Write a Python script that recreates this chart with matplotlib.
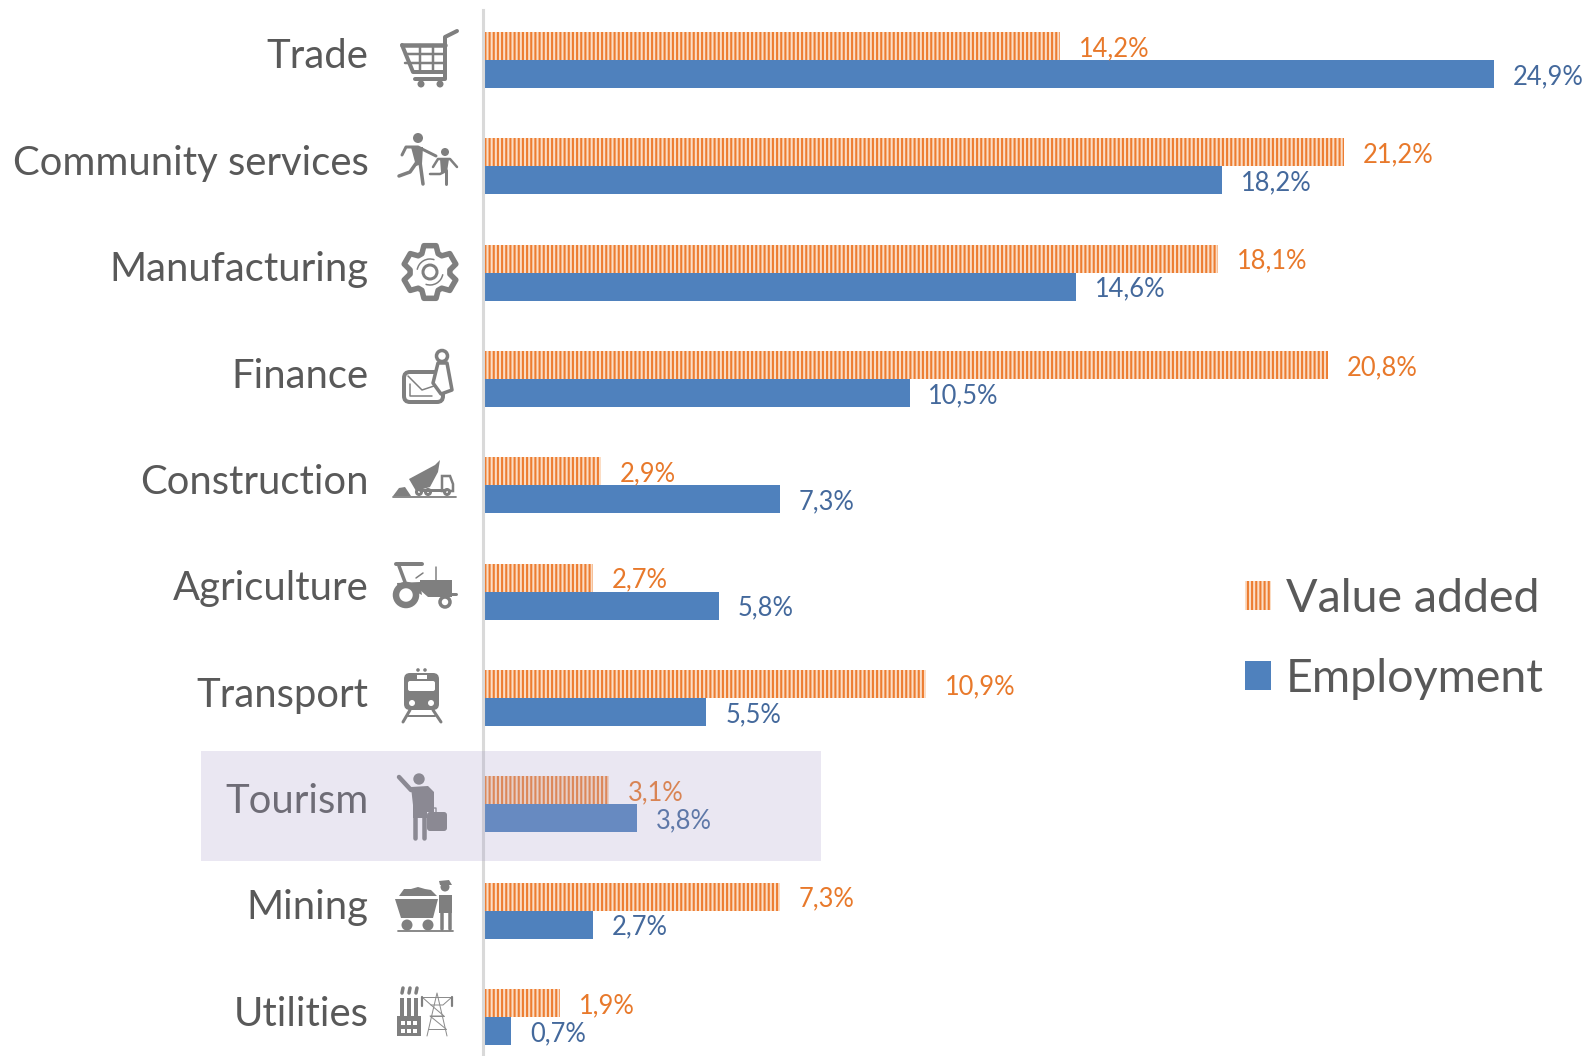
import numpy as np
import matplotlib
matplotlib.use("Agg")
import matplotlib.pyplot as plt
from matplotlib.patches import Polygon, Circle, Rectangle, FancyBboxPatch, Arc
from matplotlib.lines import Line2D
from matplotlib.transforms import ScaledTranslation

categories = ["Trade", "Community services", "Manufacturing", "Finance", "Construction",
              "Agriculture", "Transport", "Tourism", "Mining", "Utilities"]
value_added = [14.2, 21.2, 18.1, 20.8, 2.9, 2.7, 10.9, 3.1, 7.3, 1.9]
employment = [24.9, 18.2, 14.6, 10.5, 7.3, 5.8, 5.5, 3.8, 2.7, 0.7]
series_names = ["Value added", "Employment"]

W, H = 1590, 1056
plt.rcParams["font.family"] = ["Lato", "DejaVu Sans"]
plt.rcParams["hatch.linewidth"] = 1.5
ORANGE, PEACH, BLUE = "#ED7D31", "#FBDDC5", "#4F81BD"
TXT, GRAY = "#595959", "#7F7F7F"

fig = plt.figure(figsize=(W / 100, H / 100), dpi=100, facecolor="white")
L, T = 483, 10
ax = fig.add_axes([L / W, 0, 1 - L / W, 1 - T / H])
PX_PER_UNIT, ROW, FIRST = 40.62, 106.35, 60
ax.set_xlim(0, (W - L) / PX_PER_UNIT)
ax.set_ylim((H - FIRST) / ROW, -(FIRST - T) / ROW)
y = np.arange(len(categories))
h = 28 / ROW
b1 = ax.barh(y - h / 2, value_added, h, color=PEACH, edgecolor=ORANGE, hatch="||||", linewidth=0, label=series_names[0])
b2 = ax.barh(y + h / 2, employment, h, color=BLUE, linewidth=0, label=series_names[1])
fmt = lambda vals: [f"{v:.1f}%".replace(".", ",") for v in vals]
anns = ax.bar_label(b1, labels=fmt(value_added), padding=13.5, fontsize=18.4, color="#E8792B")
anns += ax.bar_label(b2, labels=fmt(employment), padding=13.5, fontsize=18.4, color="#44699C")
for a_ in anns:
    a_.xyann = (a_.xyann[0], a_.xyann[1] - 1.8)
for s in ("top", "right", "bottom"):
    ax.spines[s].set_visible(False)
ax.spines["left"].set_color("#D9D9D9")
ax.spines["left"].set_linewidth(2.2)
ax.set_xticks([])
ax.set_yticks(y, categories)
ax.tick_params(axis="y", length=0, pad=82.5, labelsize=28.8, labelcolor=TXT)
for t in ax.get_yticklabels():
    t.set_transform(t.get_transform() + ScaledTranslation(0, 6.5 / 100, fig.dpi_scale_trans))
ax.legend(handles=[b1, b2], loc="upper left", frameon=False, fontsize=33.6, labelcolor=TXT,
          handlelength=0.55, handleheight=0.58, handletextpad=0.32, labelspacing=0.83,
          borderpad=0, borderaxespad=0, bbox_to_anchor=(1245 / W, 1 - 577.5 / H),
          bbox_transform=fig.transFigure)

# Overlay in reference pixel coordinates for the pictograms and the highlight band
ov = fig.add_axes([0, 0, 1, 1], zorder=5)
ov.set_xlim(0, W)
ov.set_ylim(H, 0)
ov.axis("off")
px = 0.72

def P(pts, c=GRAY, **kw):
    ov.add_patch(Polygon(pts, closed=True, fc=c, ec="none", **kw))

def S(pts, w=3, c=GRAY):
    xs, ys = zip(*pts)
    ov.add_line(Line2D(xs, ys, lw=w * px, color=c, solid_capstyle="round", solid_joinstyle="round"))

def C(x, yy, r, c=GRAY):
    ov.add_patch(Circle((x, yy), r, fc=c, ec="none"))

def Ring(x, yy, r, w, c=GRAY, fc="none"):
    ov.add_patch(Circle((x, yy), r, fc=fc, ec=c, lw=w * px))

def RR(x0, y0, x1, y1, r, fc=GRAY, ec="none", w=0):
    ov.add_patch(FancyBboxPatch((x0 + r, y0 + r), x1 - x0 - 2 * r, y1 - y0 - 2 * r,
                                boxstyle=f"round,pad={r}", fc=fc, ec=ec, lw=w * px))

# Cart
S([(457, 31), (445, 37), (445, 79), (415, 79)], 4)
S([(402, 45), (445, 45)], 4.5)
S([(402, 45), (413, 72), (445, 72)], 4)
for yy in (54, 63):
    S([(405, yy), (445, yy)], 2.5)
for xx in (420, 433):
    S([(xx, 45), (xx, 72)], 2.5)
C(421, 84, 3.5); C(440, 84, 3.5)
# Adult and child
C(418, 138, 5)
S([(402, 155), (406, 147), (418, 147), (436, 156)], 3)
P([(411, 147), (423, 147), (422, 164), (416, 166)])
S([(417, 162), (410, 172), (399, 176)], 3.5)
S([(420, 162), (423, 184)], 3.5)
C(445, 152, 4)
S([(433, 167), (438, 159), (450, 159), (457, 167)], 2.5)
P([(440, 159), (449, 159), (447, 172), (441, 172)])
S([(446, 170), (446, 184)], 3)
S([(444, 172), (440, 174), (430, 174)], 2.5)
# Gear
gx, gy = 430, 272
a = np.deg2rad(np.arange(0, 360, 60) + 90)
gear = []
for t in a:
    for d, r in ((-24, 20), (-13, 27), (13, 27), (24, 20)):
        q = t + np.deg2rad(d)
        gear.append((gx + r * np.cos(q), gy - r * np.sin(q)))
ov.add_patch(Polygon(gear, closed=True, fc="white", ec=GRAY, lw=5.5 * px, joinstyle="round"))
Ring(gx, gy, 7, 3)
ov.add_patch(Arc((gx, gy), 26, 26, theta1=190, theta2=290, ec=GRAY, lw=1.5 * px))
ov.add_patch(Arc((gx, gy), 26, 26, theta1=10, theta2=110, ec=GRAY, lw=1.5 * px))
# Briefcase and tie
RR(404, 372, 443, 402, 6, fc="white", ec=GRAY, w=4)
S([(408, 376), (422, 390), (434, 386)], 1.5)
S([(410, 384), (410, 396), (432, 396)], 1.5)
ov.add_patch(Polygon([(438, 363), (447, 363), (452, 390), (441, 394), (433, 383)], closed=True,
                     fc="white", ec=GRAY, lw=3.5 * px, joinstyle="round"))
Ring(442, 356, 5.5, 3.5, fc="white")
# Dump truck
S([(393, 497), (456, 497)], 1.8)
P([(393, 496), (399, 488), (405, 487), (411, 496)])
P([(409, 479), (435, 465), (440, 460), (438, 472), (430, 487), (416, 491)])
ov.add_patch(Polygon([(442, 476), (450, 476), (453, 484), (453, 491), (442, 491)], closed=True,
                     fc="white", ec=GRAY, lw=2.5 * px))
S([(420, 490), (445, 490)], 3)
for xx in (419, 428, 447):
    Ring(xx, 492, 2.5, 3, fc="white")
# Tractor
S([(396, 564), (422, 564)], 4)
S([(399, 566), (405, 582)], 3.5)
P([(420, 580), (452, 580), (452, 597), (428, 597), (420, 590)])
P([(397, 583), (420, 582), (422, 595), (412, 590), (398, 590)])
S([(436, 567), (436, 581)], 1.5)
S([(416, 578), (423, 573)], 1.5)
S([(450, 594), (456, 594)], 3)
Ring(406, 595, 10, 6.5, fc="white")
Ring(445, 602, 5, 3.5, fc="white")
# Train
RR(404, 673, 439, 710, 6)
RR(408, 681, 435, 691, 2, fc="white")
ov.add_patch(Rectangle((417, 675), 10, 4, fc="white", ec="none"))
C(418, 670, 1.8); C(425, 670, 1.8)
C(412, 703, 3, c="white"); C(431, 703, 3, c="white")
S([(410, 710), (403, 722)], 3); S([(433, 710), (441, 722)], 3)
S([(408, 716), (435, 716)], 2)
# Traveller
C(419, 779, 5.7)
S([(399, 777), (411, 790), (426, 790)], 4.5)
P([(411, 787), (428, 786), (434, 792), (434, 812), (427, 812), (427, 818), (413, 818), (413, 805)])
S([(415, 816), (415, 838)], 4.5); S([(424, 816), (424, 838)], 4.5)
RR(427, 812, 447, 831, 3)
S([(430, 812), (431, 808), (436, 808), (436, 812)], 1.3)
# Mine cart and miner
P([(395, 899), (438, 899), (433, 918), (401, 918)])
P([(399, 896), (404, 889), (411, 889), (418, 887), (425, 889), (431, 890), (437, 896)])
C(407, 925, 5.5); C(428, 925, 5.5)
S([(398, 931), (453, 931)], 1.8)
C(445, 887, 4.5)
P([(439, 881), (449, 880), (452, 885), (440, 885)])
P([(439, 895), (452, 895), (452, 913), (439, 913)])
S([(441.5, 912), (441.5, 929)], 3.5); S([(449.5, 912), (449.5, 929)], 3.5)
# Factory and pylon
P([(397, 1016), (421, 1016), (421, 1036), (397, 1036)])
for xx in (402, 409, 416):
    ov.add_patch(Rectangle((xx - 1.8, 998), 3.6, 20, fc=GRAY, ec="none"))
    S([(xx, 993), (xx + 1, 988)], 3.5)
for xx in (403, 409, 415):
    for yy in (1023, 1031):
        ov.add_patch(Rectangle((xx - 1.7, yy - 2), 3.4, 4, fc="white", ec="none"))
for pts in ([(427, 1036), (437, 993), (447, 1036)], [(422, 997), (452, 997)],
            [(422, 997), (431, 1005), (443, 1005), (452, 997)], [(430, 1016), (444, 1016)],
            [(428, 1029), (446, 1029)], [(431, 1005), (444, 1016), (430, 1016), (446, 1029)]):
    S(pts, 1, c="#8C8C8C")
S([(422, 997), (422, 1006)], 2.2); S([(452, 997), (452, 1006)], 2.2)

# Tourism highlight, a translucent band on top of everything
ov.add_patch(Rectangle((201, 751), 620, 110, fc=(174 / 255, 166 / 255, 205 / 255), alpha=0.26, ec="none", zorder=100))

fig.savefig("out.png", dpi=100, facecolor="white")
